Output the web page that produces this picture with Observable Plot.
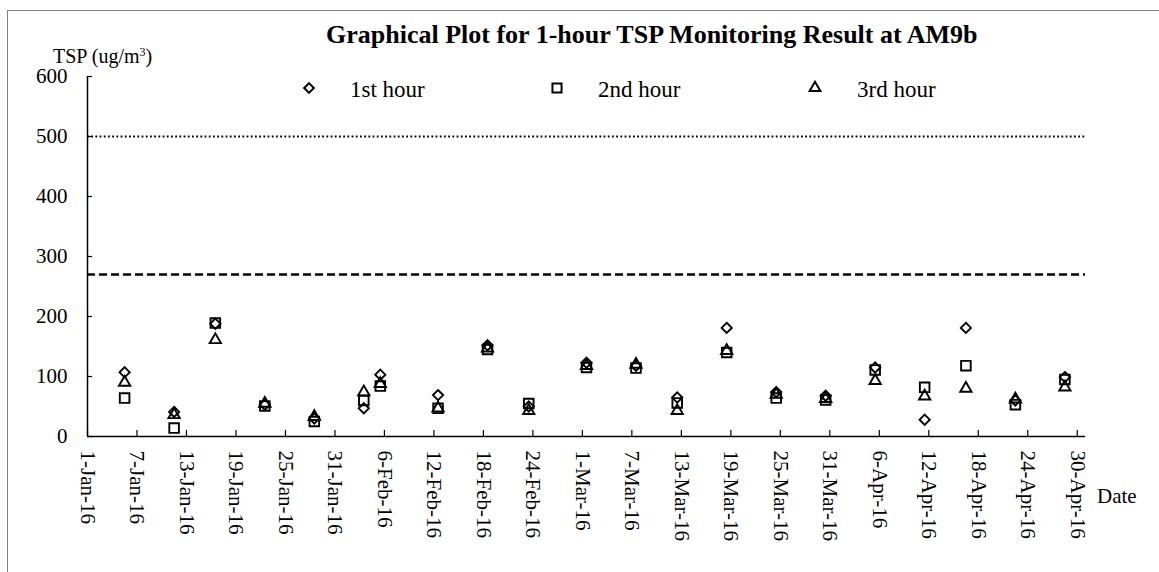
<!DOCTYPE html>
<html>
<head>
<meta charset="utf-8">
<script src="https://cdn.jsdelivr.net/npm/d3@7"></script>
<script src="https://cdn.jsdelivr.net/npm/@observablehq/plot@0.6"></script>
<style>
  html, body { margin: 0; padding: 0; background: #fff; overflow: hidden; }
  #wrap { position: relative; width: 1159px; height: 572px; font-family: "Liberation Serif", "Times New Roman", serif; color: #000; }
  #border { position: absolute; left: 7px; top: 10px; width: 1300px; height: 700px; border: 1.5px solid #7f7f7f; box-sizing: border-box; }
  #chart { position: absolute; left: 0; top: 0; }
  .lbl { position: absolute; white-space: nowrap; line-height: 1; }
  .leg { position: absolute; }
</style>
</head>
<body>
<div id="wrap">
  <div id="border"></div>
  <div id="chart"></div>
  <div class="lbl" id="title" style="left:326px; top:22px; font-size:26px; font-weight:bold;">Graphical Plot for 1-hour TSP Monitoring Result at AM9b</div>
  <div class="lbl" id="ylab" style="left:53px; top:46px; font-size:20px;">TSP (ug/m<sup style="font-size:12px; vertical-align:7px; line-height:0;">3</sup>)</div>
  <div class="lbl" id="xlab" style="left:1097px; top:486px; font-size:21px;">Date</div>
  <div id="legend"></div>
</div>
<script>
// ---- data ----
const sampleDates = ["2016-01-05","2016-01-11","2016-01-16","2016-01-22","2016-01-28","2016-02-03","2016-02-05",
  "2016-02-12","2016-02-18","2016-02-23","2016-03-01","2016-03-07","2016-03-12","2016-03-18",
  "2016-03-24","2016-03-30","2016-04-05","2016-04-11","2016-04-16","2016-04-22","2016-04-28"];
const hour1 = [107, 41, 188, 53, 30, 47, 103, 69, 152, 50, 123, 118, 65, 181, 74, 68, 115, 28, 181, 60, 99];
const hour2 = [64, 14, 189, 51, 25, 60, 84, 47, 145, 55, 115, 114, 56, 140, 64, 61, 111, 82, 118, 53, 95];
const hour3 = [90, 36, 161, 55, 33, 74, 88, 47, 147, 43, 118, 120, 43, 143, 70, 63, 93, 67, 80, 62, 82];
const seriesNames = ["1st hour", "2nd hour", "3rd hour"];
const limitLines = [500, 270];
const xTickDates = ["2016-01-01","2016-01-07","2016-01-13","2016-01-19","2016-01-25","2016-01-31",
  "2016-02-06","2016-02-12","2016-02-18","2016-02-24","2016-03-01","2016-03-07","2016-03-13",
  "2016-03-19","2016-03-25","2016-03-31","2016-04-06","2016-04-12","2016-04-18","2016-04-24","2016-04-30"];
const yTicks = [0, 100, 200, 300, 400, 500, 600];
const xDomain = ["2016-01-01", "2016-05-01"];

// ---- build ----
const parseDay = s => new Date(s + "T00:00:00Z");
const noon = s => new Date(s + "T12:00:00Z");
const rows = sampleDates.map((d, i) => ({date: noon(d), h1: hour1[i], h2: hour2[i], h3: hour3[i]}));
const fmt = d3.utcFormat("%-d-%b-%y");
const x0 = parseDay(xDomain[0]);

const symbols = [
  {key: "h1", symbol: "diamond2", r: 4.6},
  {key: "h2", symbol: "square2", r: 6.1},
  {key: "h3", symbol: "triangle2", r: 5.4}
];

const chart = Plot.plot({
  width: 1159,
  height: 572,
  marginLeft: 87,
  marginRight: 74,
  marginTop: 76,
  marginBottom: 136,
  style: {fontFamily: "'Liberation Serif', 'Times New Roman', serif", fontSize: "21px", background: "transparent", color: "#000", overflow: "visible"},
  x: {type: "utc", domain: xDomain.map(parseDay)},
  y: {domain: [0, 600]},
  marks: [
    Plot.ruleY([limitLines[0]], {stroke: "#000", strokeWidth: 2, strokeDasharray: "1.8,2.4"}),
    Plot.ruleY([limitLines[1]], {stroke: "#000", strokeWidth: 2.6, strokeDasharray: "8,4"}),
    Plot.axisY({ticks: yTicks, tickSize: -5, tickPadding: 25, label: null, fontSize: 21, strokeWidth: 1.2}),
    Plot.axisX({ticks: xTickDates.map(parseDay), tickSize: -6, tickPadding: 20, tickRotate: 90, tickFormat: fmt, label: null, fontSize: 21, strokeWidth: 1.2}),
    Plot.ruleX([x0], {stroke: "#000", strokeWidth: 1.5}),
    Plot.ruleY([0], {stroke: "#000", strokeWidth: 1.5}),
    ...symbols.map(s => Plot.dot(rows, {x: "date", y: s.key, symbol: s.symbol, r: s.r, stroke: "#000", fill: "none", strokeWidth: 1.9}))
  ]
});
document.getElementById("chart").appendChild(chart);

// ---- legend (HTML overlay) ----
const legendPos = [{sx: 309, tx: 350}, {sx: 557, tx: 598}, {sx: 815, tx: 857}];
const d3sym = [d3.symbolDiamond2, d3.symbolSquare2, d3.symbolTriangle2];
const legend = document.getElementById("legend");
seriesNames.forEach((name, i) => {
  const r = symbols[i].r * 0.95;
  const path = d3.symbol().type(d3sym[i]).size(Math.PI * r * r)();
  const s = document.createElement("div");
  s.className = "leg";
  s.style.left = (legendPos[i].sx - 10) + "px";
  s.style.top = (88 - 10) + "px";
  s.innerHTML = `<svg width="20" height="20"><path transform="translate(10,10)" d="${path}" fill="none" stroke="#000" stroke-width="2"/></svg>`;
  legend.appendChild(s);
  const t = document.createElement("div");
  t.className = "lbl";
  t.style.left = legendPos[i].tx + "px";
  t.style.top = "78px";
  t.style.fontSize = "23px";
  t.textContent = name;
  legend.appendChild(t);
});
</script>
</body>
</html>
